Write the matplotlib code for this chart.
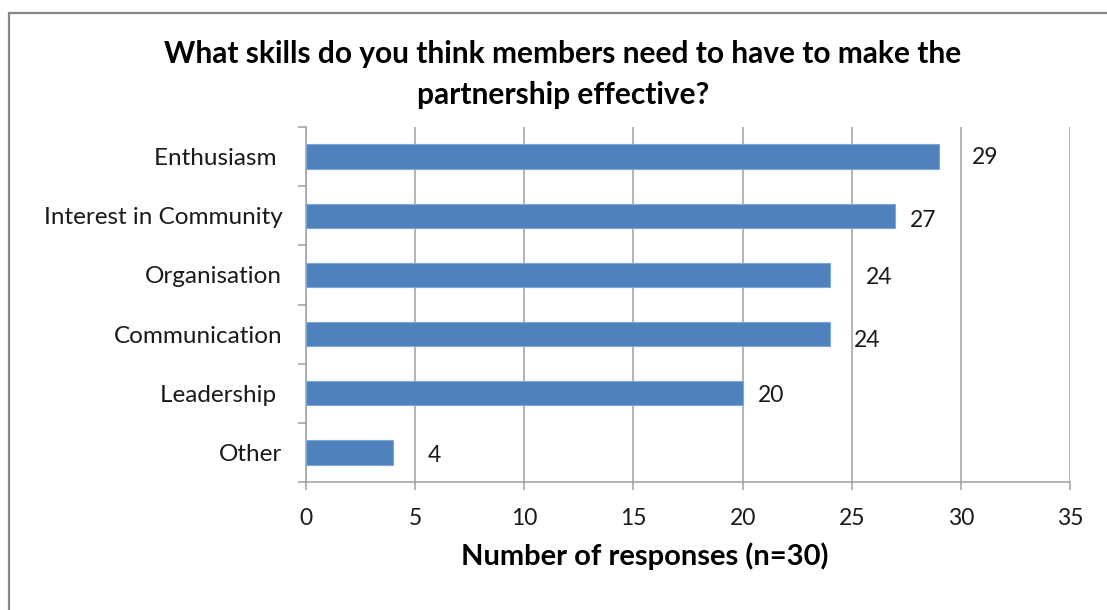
import matplotlib.pyplot as plt
from matplotlib.patches import Rectangle

skills = ['Enthusiasm ', 'Interest in Community', 'Organisation', 'Communication', 'Leadership ', 'Other']
responses = [29, 27, 24, 24, 20, 4]
xticks = [0, 5, 10, 15, 20, 25, 30, 35]

# nudges for the data labels (pixels right, pixels down)
label_dx = [33, 14, 36, 24, 15, 34]
label_dy = [1, 5, 3, 6, 2, 3]

plt.rcParams['font.family'] = ['Lato', 'DejaVu Sans']

fig = plt.figure(figsize=(11.07, 6.10), dpi=100)
ax = fig.add_axes([0.2764, 0.2098, 0.6902, 0.582])

# chart frame
fig.patches.append(Rectangle((9 / 1107, -0.1), 1.2, 1 - 13 / 610 + 0.1,
                             transform=fig.transFigure, fill=False,
                             edgecolor='#878787', linewidth=1.6))

pos = list(range(len(skills)))
ax.barh(pos, responses, height=0.41, color='#4F81BD', edgecolor='#7EA6D6',
        linewidth=0.8, zorder=3)

for i, v in enumerate(responses):
    ax.annotate(str(v), (v, i), xytext=(label_dx[i], -label_dy[i]),
                textcoords='offset pixels', ha='left', va='center',
                fontsize=16.5, color='#1a1a1a')

ax.set_xlim(0, 35)
ax.set_ylim(len(skills) - 0.5, -0.5)
ax.set_xticks(xticks)
ax.set_xticklabels([str(t) for t in xticks], fontsize=16.5, color='#1a1a1a')
ax.xaxis.grid(True, color='#A0A0A0', linewidth=1.1, zorder=0)
ax.set_axisbelow(True)

# category labels between the boundary ticks
ax.set_yticks([p - 0.5 for p in pos] + [len(skills) - 0.5])
ax.set_yticklabels([])
ax.set_yticks(pos, minor=True)
ax.set_yticklabels(skills, minor=True, fontsize=17.5, color='#1a1a1a')
ax.tick_params(axis='y', which='minor', length=0, pad=17)
ax.tick_params(axis='y', which='major', length=6, color='#A0A0A0', width=1.1)
ax.tick_params(axis='x', length=6, color='#A0A0A0', width=1.1, pad=13)

for s in ['top', 'right']:
    ax.spines[s].set_visible(False)
for s in ['left', 'bottom']:
    ax.spines[s].set_color('#A0A0A0')
    ax.spines[s].set_linewidth(1.1)

ax.set_xlabel('Number of responses (n=30)', fontsize=21, fontweight='bold')
ax.xaxis.set_label_coords(0.4437, -0.169)
fig.text(0.5086, 0.8775,
         'What skills do you think members need to have to make the\npartnership effective?',
         ha='center', va='center', fontsize=21.5, fontweight='bold',
         linespacing=1.55)

fig.savefig('out.png', dpi=100)
